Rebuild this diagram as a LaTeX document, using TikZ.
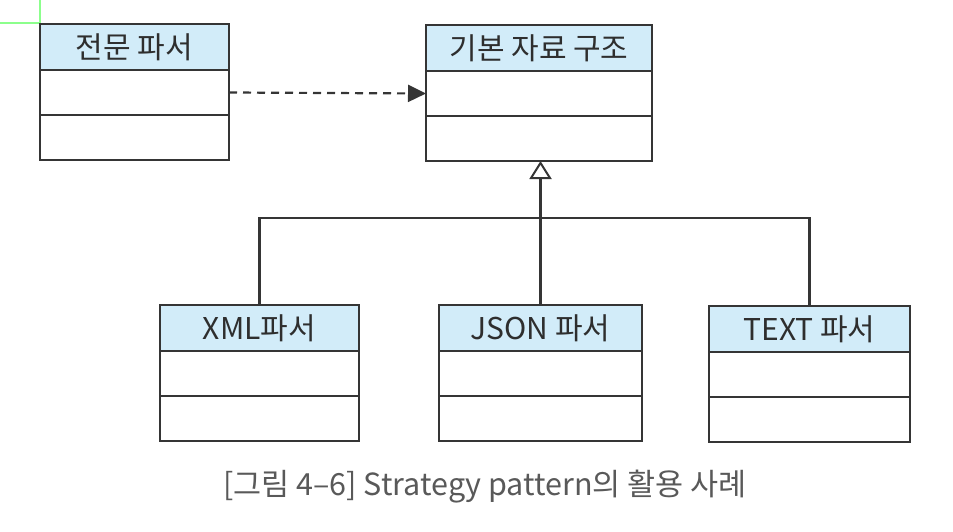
\documentclass[tikz,border=0pt]{standalone}
\usepackage{fontspec}
\usepackage{xcolor}
\usepackage{tikz}
\usetikzlibrary{arrows.meta, positioning}

\newfontfamily\krfont{Noto Sans CJK KR}
\definecolor{headblue}{HTML}{D2ECF9}
\definecolor{lineclr}{HTML}{353535}
\definecolor{textclr}{HTML}{2E2E2E}

\tikzset{
    clshead/.style={draw=lineclr, line width=2.2pt, fill=headblue, minimum width=#1,
        minimum height=46pt, inner sep=0pt, outer sep=0pt, text=textclr,
        font=\krfont\fontsize{30}{32}\selectfont},
    clsrow/.style={draw=lineclr, line width=2.2pt, fill=white, minimum width=#1,
        minimum height=45pt, inner sep=0pt, outer sep=0pt}
}

\begin{document}
\begin{tikzpicture}[x=1pt, y=-1pt, >=Stealth]
    \useasboundingbox (0,0) rectangle (953,532);
    % 모서리의 녹색 표시
    \draw[green!45, line width=1.2pt] (0,23) -- (40,23) -- (40,0);

    % 전문 파서
    \node[clshead=189pt] (parser) at (134.5,47) {전문 파서};
    \node[clsrow=189pt, below=0pt of parser] (parser-a) {};
    \node[clsrow=189pt, below=0pt of parser-a] (parser-b) {};

    % 기본 자료 구조
    \node[clshead=226pt] (base) at (539,48) {기본 자료 구조};
    \node[clsrow=226pt, below=0pt of base] (base-a) {};
    \node[clsrow=226pt, below=0pt of base-a] (base-b) {};

    % 하위 파서 세 개
    \node[clshead=199pt] (xml) at (259.5,328) {XML파서};
    \node[clsrow=199pt, below=0pt of xml] (xml-a) {};
    \node[clsrow=199pt, below=0pt of xml-a] (xml-b) {};

    \node[clshead=203pt] (json) at (540.5,328) {JSON 파서};
    \node[clsrow=203pt, below=0pt of json] (json-a) {};
    \node[clsrow=203pt, below=0pt of json-a] (json-b) {};

    \node[clshead=201pt] (text) at (809.5,329) {TEXT 파서};
    \node[clsrow=201pt, below=0pt of text] (text-a) {};
    \node[clsrow=201pt, below=0pt of text-a] (text-b) {};

    % 의존 관계 (점선)
    \draw[lineclr, line width=2.2pt, dash pattern=on 8pt off 6pt,
        -{Triangle[length=18pt, width=17pt]}] (parser-a.east) -- (base-a.west);

    % 상속 관계
    \coordinate (join) at (540.5,218);
    \draw[lineclr, line width=2.2pt] (xml.north) |- (join) -| (text.north);
    \draw[lineclr, line width=2.2pt, -{Triangle[open, length=18pt, width=22pt, line width=2pt]}]
        (json.north) -- (json.north |- base-b.south);

    % 그림 설명
    \node[text=black!65, font=\krfont\fontsize{30.5}{32}\selectfont] (caption) at (485,487)
        {[그림 4–6] Strategy pattern의 활용 사례};
\end{tikzpicture}
\end{document}
